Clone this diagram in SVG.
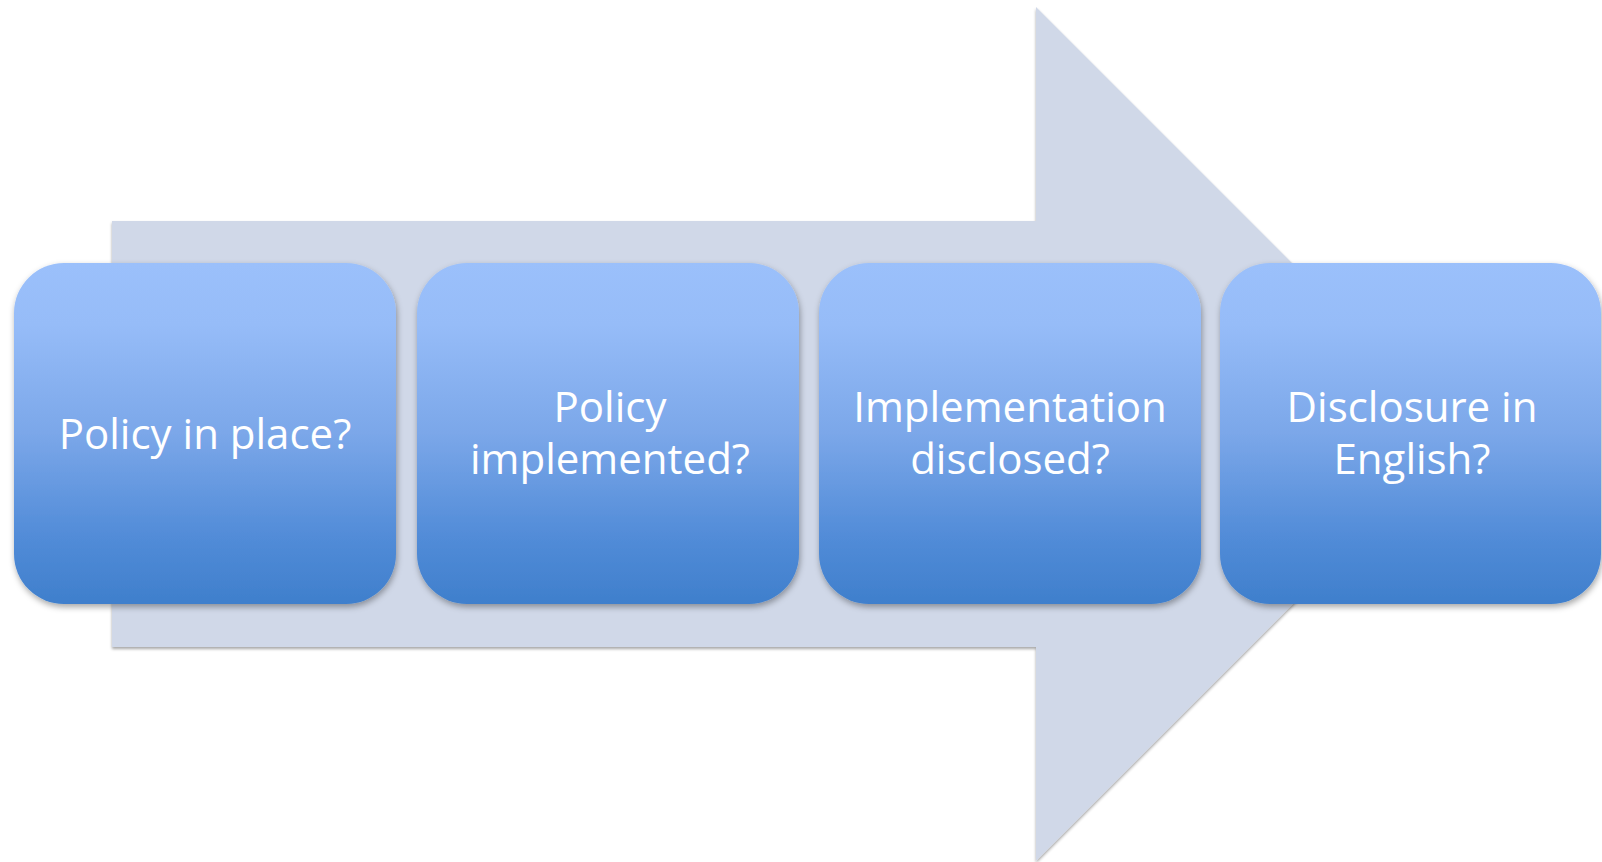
<svg xmlns="http://www.w3.org/2000/svg" width="1602" height="862" viewBox="0 0 1602 862">
  <defs>
    <linearGradient id="boxGrad" x1="0" y1="0" x2="0" y2="1">
      <stop offset="0" stop-color="#9bc0fb"/>
      <stop offset="0.18" stop-color="#96bcf8"/>
      <stop offset="0.5" stop-color="#7ba7e9"/>
      <stop offset="0.8" stop-color="#528cd8"/>
      <stop offset="1" stop-color="#3f7fcc"/>
    </linearGradient>
    <filter id="arrowShadow" x="-5%" y="-5%" width="110%" height="110%">
      <feDropShadow dx="0" dy="2" stdDeviation="1.8" flood-color="#000" flood-opacity="0.35"/>
    </filter>
    <filter id="boxShadow" x="-5%" y="-5%" width="110%" height="115%">
      <feDropShadow dx="1" dy="3" stdDeviation="3" flood-color="#000" flood-opacity="0.35"/>
    </filter>
  </defs>
  <style>
    .box { fill: url(#boxGrad); filter: url(#boxShadow); }
    .label { font-family: "Open Sans", Lato, sans-serif; font-size: 42px; fill: #ffffff; text-anchor: middle; }
  </style>
  <rect width="1602" height="862" fill="#ffffff"/>
  <g id="arrow">
    <path d="M112 221 L1036 221 L1036 7 L1463 434 L1036 861 L1036 647 L112 647 Z" fill="#d0d8e8" filter="url(#arrowShadow)"/>
  </g>
  <g id="node1">
    <rect class="box" x="14" y="263" width="382" height="341" rx="50" ry="50"/>
    <text class="label" x="205" y="449">Policy in place?</text>
  </g>
  <g id="node2">
    <rect class="box" x="417" y="263" width="382" height="341" rx="50" ry="50"/>
    <text class="label" x="610" y="422">Policy</text>
    <text class="label" x="610" y="474">implemented?</text>
  </g>
  <g id="node3">
    <rect class="box" x="819" y="263" width="382" height="341" rx="50" ry="50"/>
    <text class="label" x="1010" y="422">Implementation</text>
    <text class="label" x="1010" y="474">disclosed?</text>
  </g>
  <g id="node4">
    <rect class="box" x="1220" y="263" width="381" height="341" rx="50" ry="50"/>
    <text class="label" x="1412" y="422">Disclosure in</text>
    <text class="label" x="1412" y="474">English?</text>
  </g>
  <g id="connectors"></g>
</svg>
